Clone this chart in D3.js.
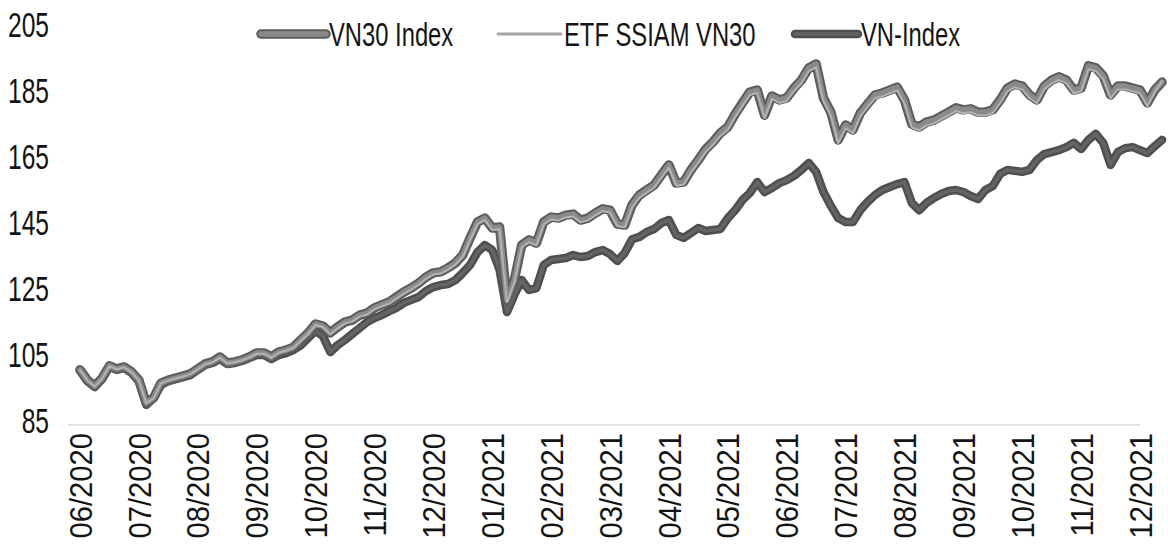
<!DOCTYPE html>
<html>
<head>
<meta charset="utf-8">
<script src="https://cdn.jsdelivr.net/npm/d3@7/dist/d3.min.js"></script>
<style>
  html, body { margin: 0; padding: 0; background: #fff; }
  svg { display: block; }
  .lbl { font-family: "Liberation Sans", Arial, sans-serif; fill: #141414; }
</style>
</head>
<body>
<div id="chart"></div>
<script>
const WIDTH = 1168;
const HEIGHT = 547;

// month labels on the x axis, one every 8 trading points
const months = ["06/2020", "07/2020", "08/2020", "09/2020", "10/2020", "11/2020", "12/2020",
  "01/2021", "02/2021", "03/2021", "04/2021", "05/2021", "06/2021", "07/2021", "08/2021",
  "09/2021", "10/2021", "11/2021", "12/2021"];
const yTicks = [85, 105, 125, 145, 165, 185, 205];

const vn30 = [101.4, 98.3, 96.5, 98.9, 102.6, 101.7, 102.3, 100.8, 98.3, 91.4,
  92.9, 97.4, 98.3, 98.9, 99.5, 100.2, 101.7, 103.2, 103.8, 105.3,
  103.5, 103.8, 104.4, 105.3, 106.5, 106.5, 105.3, 106.8, 107.4, 108.3,
  110.5, 112.6, 115.3, 114.7, 112.6, 114.4, 115.9, 116.5, 118.0, 118.6,
  120.2, 121.1, 122.0, 123.5, 125.0, 126.2, 127.7, 129.5, 130.8, 131.1,
  132.3, 133.8, 136.2, 141.4, 146.2, 147.4, 144.4, 144.7, 122.6, 128.6,
  139.2, 140.8, 139.8, 146.2, 147.7, 147.4, 148.3, 148.6, 146.8, 147.4,
  148.9, 150.2, 149.8, 145.6, 145.3, 151.4, 154.4, 155.9, 157.4, 160.5,
  163.5, 158.0, 158.3, 162.0, 165.0, 168.3, 170.5, 173.2, 175.0, 178.9,
  182.3, 185.6, 186.2, 178.6, 184.4, 183.2, 183.8, 186.8, 189.2, 192.9,
  194.1, 183.8, 179.5, 171.1, 175.6, 174.1, 179.2, 182.0, 184.7, 185.3,
  186.2, 187.1, 183.2, 175.9, 175.0, 176.5, 177.1, 178.3, 179.5, 180.8,
  180.2, 180.5, 179.5, 179.5, 180.2, 183.2, 186.8, 188.0, 187.4, 184.7,
  183.2, 187.4, 189.2, 190.2, 189.2, 186.2, 186.8, 193.5, 192.9, 190.5,
  184.7, 187.4, 187.4, 186.8, 186.2, 182.3, 186.2, 188.6];

const etfSsiam = [101.4, 98.2, 96.4, 98.8, 102.5, 101.6, 102.2, 100.7, 98.2, 91.3,
  92.8, 97.3, 98.2, 98.8, 99.4, 100.1, 101.6, 103.1, 103.7, 105.1,
  103.4, 103.7, 104.3, 105.1, 106.3, 106.3, 105.1, 106.6, 107.2, 108.1,
  110.2, 112.3, 115.0, 114.4, 112.2, 114.0, 115.5, 116.1, 117.6, 118.2,
  119.8, 120.7, 121.5, 123.0, 124.5, 125.7, 127.2, 129.0, 130.3, 130.6,
  131.8, 133.3, 135.7, 140.8, 145.6, 146.8, 143.8, 144.0, 121.9, 127.9,
  138.5, 140.1, 139.1, 145.5, 147.0, 146.7, 147.6, 147.9, 146.1, 146.7,
  148.2, 149.5, 149.1, 144.9, 144.6, 150.6, 153.6, 155.1, 156.6, 159.7,
  162.7, 157.2, 157.5, 161.2, 164.2, 167.4, 169.6, 172.3, 174.1, 178.0,
  181.4, 184.7, 185.3, 177.7, 183.5, 182.3, 182.9, 185.9, 188.2, 191.9,
  193.1, 182.8, 178.5, 170.1, 174.6, 173.1, 178.2, 181.0, 183.7, 184.3,
  185.2, 186.1, 182.2, 174.9, 174.0, 175.5, 176.1, 177.3, 178.5, 179.8,
  179.2, 179.5, 178.5, 178.5, 179.2, 182.2, 185.8, 187.0, 186.4, 183.7,
  182.2, 186.4, 188.2, 189.2, 188.2, 185.2, 185.8, 192.5, 191.9, 189.5,
  183.7, 186.4, 186.4, 185.8, 185.2, 181.3, 185.6, 188.9];

const vnIndex = [101.4, 98.0, 96.2, 98.6, 102.3, 101.4, 102.0, 100.5, 98.0, 90.8,
  92.9, 96.8, 98.0, 98.6, 99.2, 99.8, 101.4, 102.9, 103.5, 104.7,
  103.2, 103.5, 104.1, 105.0, 105.9, 105.9, 104.7, 105.9, 106.5, 107.4,
  108.9, 111.1, 113.2, 111.7, 106.8, 108.9, 110.5, 112.3, 114.1, 115.9,
  117.1, 118.0, 119.2, 120.2, 121.7, 122.6, 123.5, 125.3, 126.5, 127.1,
  127.4, 128.6, 130.8, 133.2, 137.1, 139.2, 137.7, 131.7, 118.9, 124.1,
  128.6, 125.6, 126.2, 133.2, 134.7, 135.0, 135.3, 136.2, 135.6, 135.9,
  137.1, 137.7, 136.5, 134.4, 136.8, 141.0, 141.7, 143.2, 144.1, 145.9,
  146.8, 142.3, 141.4, 142.9, 144.4, 143.5, 143.8, 144.1, 147.4, 149.8,
  152.9, 155.0, 158.3, 155.3, 156.5, 158.0, 158.9, 160.2, 162.0, 164.1,
  161.4, 155.3, 151.1, 147.4, 146.2, 146.2, 149.8, 152.3, 154.4, 155.9,
  156.8, 157.7, 158.3, 152.0, 149.8, 152.0, 153.5, 154.7, 155.6, 155.9,
  155.3, 154.1, 153.2, 155.9, 157.1, 160.8, 162.0, 161.7, 161.4, 162.0,
  165.0, 166.8, 167.4, 168.0, 168.9, 170.2, 168.3, 171.1, 172.9, 170.2,
  163.5, 167.4, 168.6, 168.9, 168.0, 167.1, 169.2, 171.1];

const POINTS_PER_MONTH = 8;
// the scanned chart is a bit narrow and tall, so text is squeezed and stretched
const TEXT_SX = 0.82;
const TEXT_SY = 1.15;

const x = d3.scaleLinear()
  .domain([0, (months.length - 1) * POINTS_PER_MONTH])
  .range([80, 1140]);
const y = d3.scaleLinear().domain([85, 205]).range([424, 28]);

const svg = d3.select("#chart")
  .append("svg")
  .attr("width", WIDTH)
  .attr("height", HEIGHT)
  .attr("viewBox", `0 0 ${WIDTH} ${HEIGHT}`);

// baseline at 85
svg.append("line")
  .attr("x1", 68)
  .attr("x2", x.range()[1])
  .attr("y1", y(85) + 1)
  .attr("y2", y(85) + 1)
  .attr("stroke", "#d9d9d9")
  .attr("stroke-width", 1.5);

// y labels
svg.append("g")
  .selectAll("g")
  .data(yTicks)
  .enter()
  .append("g")
  .attr("transform", (t) => `translate(49,${y(t) - 3}) scale(${TEXT_SX},${TEXT_SY})`)
  .append("text")
  .attr("class", "lbl")
  .attr("text-anchor", "end")
  .attr("dy", "0.36em")
  .attr("font-size", 30)
  .text((t) => t);

// x labels, rotated
const xAxis = d3.axisBottom(x)
  .tickValues(months.map((m, i) => i * POINTS_PER_MONTH))
  .tickFormat((v) => months[v / POINTS_PER_MONTH])
  .tickSize(0);

const xg = svg.append("g")
  .attr("transform", "translate(0,433)")
  .call(xAxis);
xg.select(".domain").remove();
xg.selectAll("text")
  .attr("class", "lbl")
  .attr("font-size", 31)
  .attr("x", 0)
  .attr("y", 0)
  .attr("dy", "0.36em")
  .attr("text-anchor", "end")
  .attr("transform", `scale(1,${TEXT_SY}) rotate(-90) scale(${TEXT_SX},1)`);

const line = d3.line()
  .x((d, i) => x(i))
  .y((d) => y(d));

function drawSeries(values, layers) {
  layers.forEach((layer) => {
    svg.append("path")
      .datum(values)
      .attr("d", line)
      .attr("fill", "none")
      .attr("stroke", layer.color)
      .attr("stroke-width", layer.width)
      .attr("stroke-linejoin", "round")
      .attr("stroke-linecap", "round");
  });
}

const styles = {
  vnIndex: [{ color: "#4f4f4f", width: 8.5 }, { color: "#646464", width: 3.5 }],
  vn30: [{ color: "#5c5c5c", width: 9.5 }, { color: "#8a8a8a", width: 5.5 }],
  etf: [{ color: "#b3b3b3", width: 2 }]
};

drawSeries(vnIndex, styles.vnIndex);
drawSeries(vn30, styles.vn30);
drawSeries(etfSsiam, styles.etf);

// legend
const legend = [
  { name: "VN30 Index", x1: 261, x2: 326, layers: styles.vn30 },
  { name: "ETF SSIAM VN30", x1: 498, x2: 561, layers: [{ color: "#a6a6a6", width: 3 }] },
  { name: "VN-Index", x1: 795, x2: 858, layers: styles.vnIndex }
];
const LEGEND_Y = 34;

legend.forEach((item) => {
  item.layers.forEach((layer) => {
    svg.append("line")
      .attr("x1", item.x1)
      .attr("x2", item.x2)
      .attr("y1", LEGEND_Y)
      .attr("y2", LEGEND_Y)
      .attr("stroke", layer.color)
      .attr("stroke-width", layer.width)
      .attr("stroke-linecap", "round");
  });
  svg.append("g")
    .attr("transform", `translate(${item.x2 + 3},${LEGEND_Y}) scale(${TEXT_SX},${TEXT_SY})`)
    .append("text")
    .attr("class", "lbl")
    .attr("font-size", 29)
    .attr("dy", "0.36em")
    .text(item.name);
});
</script>
</body>
</html>
